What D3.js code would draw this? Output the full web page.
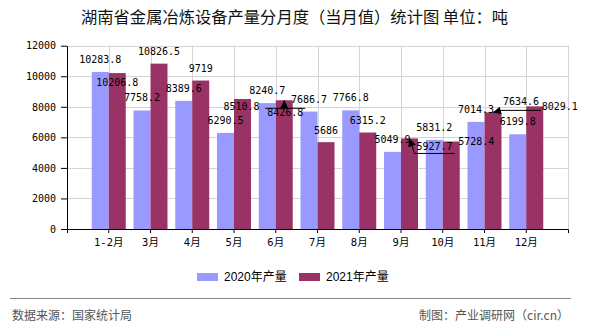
<!DOCTYPE html>
<html>
<head>
<meta charset="utf-8">
<script src="https://cdn.jsdelivr.net/npm/d3@7"></script>
<style>
  html, body { margin: 0; padding: 0; background: #fff; }
  svg { display: block; }
</style>
</head>
<body>
<svg id="chart" width="590" height="330"></svg>
<script>
// ---- data ----
const categories = ["1-2月", "3月", "4月", "5月", "6月", "7月", "8月", "9月", "10月", "11月", "12月"];
const series2020 = [10283.8, 7758.2, 8389.6, 6290.5, 8240.7, 7686.7, 7766.8, 5049.9, 5831.2, 7014.3, 6199.8];
const series2021 = [10206.8, 10826.5, 9719, 8510.8, 8426.8, 5686, 6315.2, 5927.7, 5728.4, 7634.6, 8029.1];
const seriesNames = ["2020年产量", "2021年产量"];
const yTicks = [0, 2000, 4000, 6000, 8000, 10000, 12000];
const titleText = "湖南省金属冶炼设备产量分月度（当月值）统计图 单位：吨";
const sourceText = "数据来源：国家统计局";
const makerText = "制图：产业调研网（cir.cn）";

// ---- layout / style (not data) ----
const colors = ["#9999FF", "#993366"];
// label offsets for 2021 series labels: [dx, dy] from bar-top centre to label centre
const shift2021 = [[0, 9], [0, -12], [0, -12.5], [-1, 8], [1, 12], [0, -12], [0, -12], [25, 8.5], [25, 0], [28, -11], [25, 0]];
// leader lines: [category index, line y offset relative to label centre]
const leaders = [[4, -4], [7, 6.5], [9, 9]];

const svg = d3.select("#chart");
const M = { left: 67, right: 568, top: 45.7, bottom: 229 };

const x = d3.scaleBand().domain(categories).range([M.left, M.right]).paddingInner(0).paddingOuter(0.5);
const y = d3.scaleLinear().domain([0, 12000]).range([M.bottom, M.top]);
const bw = 17;
const cx = c => x(c) + x.bandwidth() / 2;

const monoFont = "'DejaVu Sans Mono', 'Noto Sans CJK SC', monospace";

// title
svg.append("text").attr("x", 294.5).attr("y", 23).attr("text-anchor", "middle")
  .attr("font-family", "'Noto Sans CJK SC', sans-serif").attr("font-size", "16.3px")
  .attr("fill", "#111").text(titleText);

// grid
const grid = svg.append("g").attr("stroke", "#d4d4d4").attr("stroke-width", 1);
grid.selectAll("line.h").data(yTicks.slice(1)).join("line")
  .attr("x1", M.left).attr("x2", M.right)
  .attr("y1", d => Math.round(y(d)) + 0.5).attr("y2", d => Math.round(y(d)) + 0.5);
grid.selectAll("line.v").data(categories).join("line")
  .attr("x1", d => Math.round(cx(d)) + 0.5).attr("x2", d => Math.round(cx(d)) + 0.5)
  .attr("y1", M.top).attr("y2", M.bottom);
grid.append("line").attr("x1", M.right + 0.5).attr("x2", M.right + 0.5).attr("y1", M.top).attr("y2", M.bottom);

// bars
const bars = svg.append("g");
bars.selectAll("rect.a").data(series2020).join("rect")
  .attr("x", (d, i) => cx(categories[i]) - bw).attr("width", bw)
  .attr("y", d => y(d)).attr("height", d => y(0) - y(d)).attr("fill", colors[0]);
bars.selectAll("rect.b").data(series2021).join("rect")
  .attr("x", (d, i) => cx(categories[i])).attr("width", bw)
  .attr("y", d => y(d)).attr("height", d => y(0) - y(d)).attr("fill", colors[1]);

// axes
const yAxis = svg.append("g").attr("transform", `translate(${M.left},0)`)
  .call(d3.axisLeft(y).tickValues(yTicks).tickFormat(d3.format("d")).tickSize(6).tickSizeOuter(0));
yAxis.selectAll("text").attr("font-family", monoFont).attr("font-size", "10px").attr("fill", "#000").attr("dx", "-2");
yAxis.selectAll("path, line").attr("stroke", "#000");

const xAxis = svg.append("g").attr("transform", `translate(0,${M.bottom})`)
  .call(d3.axisBottom(x).tickSize(4).tickSizeOuter(4));
xAxis.selectAll("text").attr("font-family", monoFont).attr("font-size", "10.5px").attr("fill", "#000").attr("dy", "0.95em");
xAxis.selectAll("path, line").attr("stroke", "#000");

// value labels
const labels = svg.append("g").attr("font-family", monoFont).attr("font-size", "10px")
  .attr("fill", "#000").attr("text-anchor", "middle");
labels.selectAll("text.a").data(series2020).join("text")
  .attr("x", (d, i) => cx(categories[i]) - bw / 2)
  .attr("y", d => y(d) - 12.5).attr("dy", "0.35em").text(d => d);
const lab2021 = series2021.map((d, i) => ({
  v: d, i,
  x: cx(categories[i]) + bw / 2 + shift2021[i][0],
  y: y(d) + shift2021[i][1]
}));
labels.selectAll("text.b").data(lab2021).join("text")
  .attr("x", d => d.x).attr("y", d => d.y).attr("dy", "0.35em").text(d => d.v);

// leader lines
svg.append("defs").append("marker").attr("id", "arr").attr("viewBox", "0 0 10 10")
  .attr("refX", 10).attr("refY", 5).attr("markerWidth", 8).attr("markerHeight", 8)
  .attr("markerUnits", "userSpaceOnUse").attr("orient", "auto")
  .append("path").attr("d", "M0,0L10,5L0,10Z").attr("fill", "#000");
const lead = svg.append("g").attr("stroke", "#000").attr("fill", "none").attr("stroke-width", 1);
leaders.forEach(([i, off]) => {
  const L = lab2021[i];
  const w = String(L.v).length * 6;
  const x0 = L.x - w / 2 - 2, x1 = L.x + w / 2 + 2;
  const ly = L.y + off;
  const tipX = cx(categories[i]) + bw / 2, tipY = y(L.v);
  const jx = Math.max(x0, Math.min(x1, tipX));
  lead.append("line").attr("x1", x0).attr("x2", x1).attr("y1", ly).attr("y2", ly);
  lead.append("line").attr("x1", jx).attr("y1", ly).attr("x2", tipX).attr("y2", tipY)
    .attr("marker-end", "url(#arr)");
});

// legend
const legend = svg.append("g");
const legX = [197, 299];
seriesNames.forEach((n, k) => {
  legend.append("rect").attr("x", legX[k]).attr("y", 273).attr("width", 21).attr("height", 8).attr("fill", colors[k]);
  legend.append("text").attr("x", legX[k] + 27).attr("y", 277).attr("dy", "0.35em")
    .attr("font-family", "'Liberation Sans', 'Noto Sans CJK SC', sans-serif").attr("font-size", "12px")
    .attr("fill", "#000").text(n);
});

// footer
svg.append("line").attr("x1", 10).attr("x2", 571).attr("y1", 298.5).attr("y2", 298.5)
  .attr("stroke", "#888").attr("stroke-width", 1);
svg.append("text").attr("x", 12).attr("y", 316).attr("dy", "0.35em")
  .attr("font-family", "'Noto Sans CJK SC', sans-serif").attr("font-size", "12px").attr("fill", "#555").text(sourceText);
svg.append("text").attr("x", 569).attr("y", 316).attr("dy", "0.35em").attr("text-anchor", "end")
  .attr("font-family", "'Noto Sans CJK SC', sans-serif").attr("font-size", "12px").attr("fill", "#555").text(makerText);
</script>
</body>
</html>
